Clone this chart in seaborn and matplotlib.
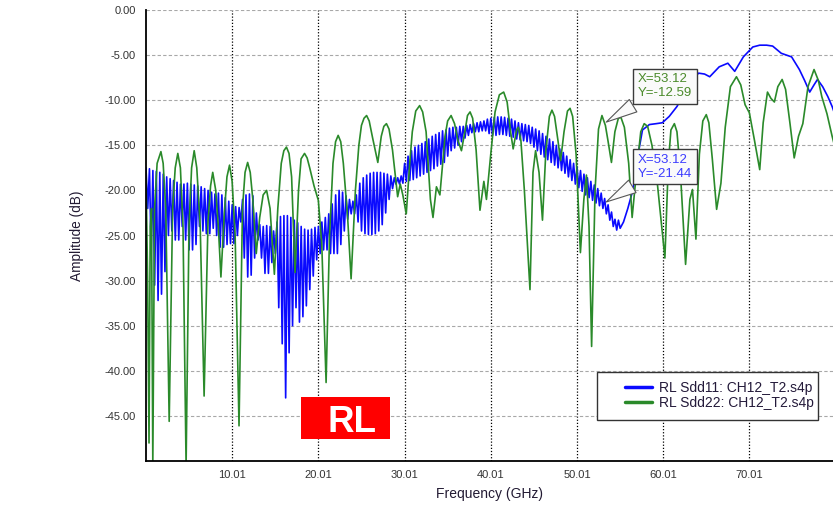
import numpy as np
import pandas as pd
import matplotlib
matplotlib.use("Agg")
import matplotlib.pyplot as plt
import seaborn as sns
from matplotlib.lines import Line2D
from matplotlib.patches import Rectangle

# Sdd11 ripple band: alternating peak / valley readings, one every 0.2 GHz from 0.01 GHz
RIPPLE_START = 0.01
RIPPLE_STEP = 0.2
sdd11_peaks = [
    -17.5, -17.6, -17.8, -17.9, -18.0, -18.2, -18.5, -18.7, -18.9, -19.1,
    -19.3, -19.3, -19.2, -19.3, -19.4, -19.5, -19.6, -19.8, -20.0, -20.2,
    -20.4, -20.3, -20.5, -20.8, -21.2, -21.6, -21.8, -21.9, -21.0, -20.5,
    -20.4, -20.6, -22.5, -23.8, -24.0, -23.9, -24.0, -24.5, -23.5, -22.9,
    -22.8, -22.8, -23.0, -23.3, -23.6, -24.0, -24.3, -24.4, -24.3, -24.1,
    -24.0, -23.5, -23.0, -22.6, -21.5, -20.5, -20.0, -20.2, -20.6, -21.0,
    -21.2, -20.5, -19.2, -18.6, -18.3, -18.1, -18.0, -18.0, -18.0, -18.1,
    -18.2, -18.4, -18.6, -18.6, -18.4, -17.0, -16.2, -15.6, -15.2, -15.0,
    -14.8, -14.6, -14.3, -14.0, -13.8, -13.6, -13.4, -13.3, -13.1, -13.0,
    -13.0, -12.9, -12.9, -12.8, -12.7, -12.6, -12.5, -12.4, -12.3, -12.1,
    -12.0, -11.9, -11.85, -11.85, -11.9, -12.0, -12.1, -12.3, -12.5, -12.6,
    -12.7, -12.8, -13.0, -13.2, -13.4, -13.7, -14.0, -14.3, -14.6, -15.0,
    -15.4, -15.8, -16.2, -16.6, -17.0, -17.4, -17.8, -18.2, -18.6, -19.0,
    -19.4, -19.8, -20.3, -20.9, -21.6, -22.4, -23.2, -23.3,
]
sdd11_valleys = [
    -22.0, -27.0, -30.5, -32.2, -31.5, -29.0, -25.0, -24.5, -25.5, -25.5,
    -24.0, -25.5, -26.6, -26.6, -26.0, -24.0, -24.5, -24.8, -24.8, -24.2,
    -25.0, -26.3, -26.3, -26.0, -25.9, -25.9, -25.0, -23.5, -27.5, -29.6,
    -29.4, -27.5, -25.5, -27.5, -29.2, -29.2, -28.0, -27.0, -33.0, -37.0,
    -43.0, -38.0, -35.0, -33.0, -34.6, -34.0, -32.8, -31.0, -29.5, -27.7,
    -27.0, -26.6, -26.6, -27.0, -27.0, -27.0, -26.0, -24.5, -23.2, -22.6,
    -22.6, -23.5, -24.5, -24.8, -24.9, -24.9, -24.8, -24.5, -23.8, -22.5,
    -21.0, -19.8, -19.3, -19.3, -19.2, -19.0, -18.9, -18.8, -18.6, -18.4,
    -18.2, -18.0, -17.8, -17.6, -17.3, -17.1, -16.9, -16.2, -15.6, -15.3,
    -15.0, -14.6, -14.2, -13.9, -13.6, -13.5, -13.5, -13.4, -13.4, -13.7,
    -13.9, -13.9, -13.8, -13.8, -13.9, -14.0, -14.1, -14.3, -14.4, -14.5,
    -14.6, -14.8, -15.2, -15.6, -16.0, -16.3, -16.6, -16.9, -17.2, -17.5,
    -17.8, -18.1, -18.5, -18.9, -19.3, -19.7, -20.1, -20.5, -20.8, -21.1,
    -21.4, -21.7, -22.0, -22.6, -23.3, -24.0, -24.4, -24.2,
]
sdd11_tail_freq = [55.4, 55.9, 56.5, 57.0, 57.6, 58.4, 59.2, 59.9, 60.7, 61.6,
                   62.4, 63.2, 64.1, 64.8, 65.4, 66.0, 66.5, 67.0, 67.5, 68.3,
                   68.8, 69.3, 69.9, 70.4, 71.2, 72.0, 72.7, 73.7, 74.9, 75.8,
                   76.4, 77.0, 77.5, 77.9, 78.5, 79.1, 79.6, 80.0]
sdd11_tail_db = [-23.5, -22.0, -19.9, -16.5, -13.3, -12.7, -12.6, -12.5, -11.8, -10.7,
                 -9.3, -8.0, -7.0, -7.1, -7.4, -6.8, -6.3, -6.1, -5.9, -6.8,
                 -6.0, -5.2, -4.6, -4.1, -3.9, -3.9, -4.0, -4.8, -5.2, -6.6,
                 -7.8, -9.1, -8.3, -7.7, -8.5, -9.6, -10.7, -11.8]

# Sdd22 readings (GHz, dB)
sdd22_points = [
    (0.01, -18.0), (0.2, -30.0), (0.36, -48.0), (0.5, -24.0), (0.65, -22.0),
    (0.8, -50.5), (1.0, -22.0), (1.3, -17.0), (1.74, -15.7), (2.0, -17.0),
    (2.3, -22.0), (2.7, -45.6), (3.1, -22.0), (3.4, -17.5), (3.7, -15.9),
    (4.0, -17.5), (4.3, -24.0), (4.66, -50.5), (5.0, -24.0), (5.3, -17.5),
    (5.6, -15.6), (5.9, -17.5), (6.3, -24.0), (6.75, -42.8), (7.2, -23.5),
    (7.5, -19.5), (7.75, -18.0), (8.1, -20.0), (8.4, -24.0), (8.7, -29.6),
    (9.1, -22.5), (9.4, -18.5), (9.7, -17.2), (10.0, -19.0), (10.35, -25.0),
    (10.8, -46.1), (11.2, -22.0), (11.5, -18.0), (11.8, -16.9), (12.1, -18.0),
    (12.4, -21.0), (12.8, -27.0), (13.2, -23.0), (13.6, -20.5), (14.0, -20.0),
    (14.4, -22.0), (14.9, -29.3), (15.3, -22.0), (15.7, -17.0), (16.0, -15.6),
    (16.3, -15.2), (16.6, -15.9), (16.9, -18.5), (17.3, -29.1), (17.7, -20.0),
    (18.0, -16.5), (18.4, -15.9), (18.7, -16.4), (19.0, -17.5), (19.5, -19.5),
    (20.0, -21.1), (20.4, -26.0), (20.9, -41.3), (21.3, -25.0), (21.7, -17.0),
    (22.0, -14.6), (22.3, -13.9), (22.6, -14.6), (22.9, -17.0), (23.4, -23.0),
    (23.8, -29.8), (24.3, -20.0), (24.7, -15.0), (25.0, -12.8), (25.3, -12.0),
    (25.6, -11.7), (25.9, -12.3), (26.3, -14.2), (26.9, -16.9), (27.3, -14.0),
    (27.6, -12.9), (27.9, -12.6), (28.2, -13.2), (28.6, -15.5), (29.2, -20.7),
    (29.5, -19.3), (29.8, -20.5), (30.2, -22.6), (30.6, -17.0), (30.9, -13.5),
    (31.3, -11.2), (31.75, -10.6), (32.1, -11.3), (32.5, -13.5), (33.0, -21.0),
    (33.3, -23.0), (33.7, -19.6), (34.1, -20.5), (34.7, -14.0), (35.0, -12.3),
    (35.4, -11.7), (35.8, -12.6), (36.2, -14.5), (36.6, -15.6), (37.0, -13.5),
    (37.3, -11.7), (37.6, -11.3), (37.9, -12.0), (38.3, -15.5), (38.75, -22.2),
    (39.2, -19.0), (39.5, -21.0), (40.0, -16.0), (40.5, -11.3), (41.0, -9.4),
    (41.5, -9.1), (41.9, -10.2), (42.3, -13.5), (42.6, -15.4), (43.0, -13.3),
    (43.2, -13.0), (43.5, -14.5), (43.9, -20.0), (44.55, -31.0), (44.9, -18.0),
    (45.2, -15.6), (45.6, -18.0), (46.0, -23.3), (46.4, -15.5), (46.8, -11.8),
    (47.1, -11.1), (47.4, -11.8), (47.8, -14.5), (48.1, -16.7), (48.5, -13.5),
    (48.9, -11.2), (49.2, -10.9), (49.5, -11.8), (49.9, -16.0), (50.4, -26.9),
    (50.8, -21.0), (51.1, -18.3), (51.4, -24.0), (51.7, -37.3), (52.1, -20.0),
    (52.5, -13.2), (52.9, -11.7), (53.3, -12.8), (53.6, -14.5), (54.0, -16.9),
    (54.4, -13.5), (54.8, -12.0), (55.1, -11.9), (55.5, -13.0), (56.0, -17.0),
    (56.4, -23.0), (56.9, -18.0), (57.4, -13.5), (57.8, -12.6), (58.2, -12.9),
    (58.7, -15.0), (59.3, -19.0), (60.2, -27.5), (60.6, -17.0), (60.9, -13.3),
    (61.3, -12.6), (61.6, -13.5), (62.0, -18.0), (62.6, -28.2), (63.1, -21.0),
    (63.4, -19.9), (63.8, -25.4), (64.2, -16.0), (64.6, -12.3), (65.0, -11.6),
    (65.3, -12.5), (65.7, -16.5), (66.2, -22.1), (66.7, -19.2), (67.2, -13.0),
    (67.8, -8.5), (68.5, -7.4), (69.0, -8.3), (69.5, -10.5), (70.0, -11.4),
    (70.6, -14.5), (71.2, -17.7), (71.6, -12.5), (72.1, -9.1), (72.5, -9.8),
    (72.9, -10.2), (73.3, -8.5), (73.8, -7.7), (74.2, -8.8), (74.7, -12.5),
    (75.2, -16.4), (75.7, -14.0), (76.2, -12.6), (76.8, -8.5), (77.5, -6.6),
    (78.0, -7.8), (78.4, -9.6), (79.0, -11.5), (79.6, -14.0), (80.0, -15.5),
]

x_ticks = [10.01, 20.01, 30.01, 40.01, 50.01, 60.01, 70.01]
y_ticks = [0, -5, -10, -15, -20, -25, -30, -35, -40, -45]
marker_freq = 53.12
marker_sdd22 = -12.59
marker_sdd11 = -21.44

LABEL_11 = "RL Sdd11: CH12_T2.s4p"
LABEL_22 = "RL Sdd22: CH12_T2.s4p"
BLUE = "#0a0aff"
GREEN = "#2a8a2a"

n = len(sdd11_peaks)
ripple_db = np.empty(2 * n)
ripple_db[0::2] = sdd11_peaks
ripple_db[1::2] = sdd11_valleys
ripple_freq = RIPPLE_START + RIPPLE_STEP * np.arange(2 * n)

df11 = pd.DataFrame({"freq": np.concatenate([ripple_freq, sdd11_tail_freq]),
                     "db": np.concatenate([ripple_db, sdd11_tail_db])})
df11["trace"] = LABEL_11
df22 = pd.DataFrame(sdd22_points, columns=["freq", "db"])
df22["trace"] = LABEL_22
df = pd.concat([df11, df22], ignore_index=True)

sns.set_style("white")
plt.rcParams["font.family"] = ["Liberation Sans", "DejaVu Sans"]

fig = plt.figure(figsize=(8.33, 5.11), dpi=100)
ax = fig.add_axes([146 / 833, 1 - 461 / 511, 687 / 833, 451 / 511])

sns.lineplot(data=df, x="freq", y="db", hue="trace", palette={LABEL_11: BLUE, LABEL_22: GREEN},
             estimator=None, sort=False, linewidth=1.2, legend=False, ax=ax)

ax.set_xlim(0.01, 79.7)
ax.set_ylim(-50, 0)
ax.set_xticks(x_ticks)
ax.set_xticklabels([f"{t:.2f}" for t in x_ticks])
ax.set_yticks(y_ticks)
ax.set_yticklabels([f"{t:.2f}" for t in y_ticks])
ax.tick_params(axis="y", length=6, width=1, direction="out", pad=1.5, labelsize=8, colors="#333333")
ax.tick_params(axis="x", length=3.6, width=1, direction="out", pad=3, labelsize=8, colors="#333333")
ax.tick_params(axis="both", color="black")

ax.xaxis.grid(True, linestyle=(0, (1, 1.5)), color="black", linewidth=0.9)
ax.yaxis.grid(True, linestyle=(0, (3, 2)), color="#a8a8a8", linewidth=0.8)
ax.set_axisbelow(True)
for side in ["top", "right"]:
    ax.spines[side].set_visible(False)
for side in ["left", "bottom"]:
    ax.spines[side].set_color("black")
    ax.spines[side].set_linewidth(1.3)

ax.set_xlabel("Frequency (GHz)", fontsize=10, color="#221a33")
ax.set_ylabel("Amplitude (dB)", fontsize=9.8, color="#221a33")
ax.xaxis.set_label_coords(0.5, -0.058)
ax.yaxis.set_label_coords(-0.09, 0.5)

# marker callouts
box = dict(boxstyle="square,pad=0.35", fc="#fafafa", ec="#3a3a3a", lw=1)
wedge = dict(arrowstyle="wedge,tail_width=1.1,shrink_factor=0.5", fc="#fafafa", ec="#555555", lw=0.8)
ax.annotate(f"X={marker_freq:.2f}\nY={marker_sdd22:.2f}", xy=(marker_freq, marker_sdd22),
            xytext=(60.2, -8.45), ha="center", va="center", multialignment="left",
            fontsize=9.5, color="#4a8a2a", bbox=box, arrowprops=wedge, zorder=6)
ax.annotate(f"X={marker_freq:.2f}\nY={marker_sdd11:.2f}", xy=(marker_freq, marker_sdd11),
            xytext=(60.2, -17.4), ha="center", va="center", multialignment="left",
            fontsize=9.5, color="#3c3cff", bbox=box, arrowprops=wedge, zorder=6)

# legend with a square frame
handles = [Line2D([], [], color=BLUE, lw=2.5), Line2D([], [], color=GREEN, lw=2.5)]
ax.add_patch(Rectangle(((597 - 146) / 687, (461 - 420) / 451), 221 / 687, 48 / 451,
                       transform=ax.transAxes, fc="white", ec="#333333", lw=1, zorder=7))
leg = ax.legend(handles, [LABEL_11, LABEL_22], loc="upper left",
                bbox_to_anchor=((619 - 146) / 687, (461 - 375) / 451), borderaxespad=0,
                frameon=False, fontsize=10, handlelength=2.0, handletextpad=0.5,
                labelspacing=0.1)
leg.set_zorder(8)
for t in leg.get_texts():
    t.set_color("#241a3a")

# red tag
fig.add_artist(Rectangle((301 / 833, 1 - 439 / 511), 89 / 833, 42 / 511,
                         transform=fig.transFigure, fc="#ff0000", ec="none", zorder=10))
fig.text(352.5 / 833, 1 - 431.5 / 511, "RL", color="white", fontsize=26.5, fontweight="bold",
         ha="center", va="baseline", zorder=11)

fig.savefig("out.png", dpi=100)
